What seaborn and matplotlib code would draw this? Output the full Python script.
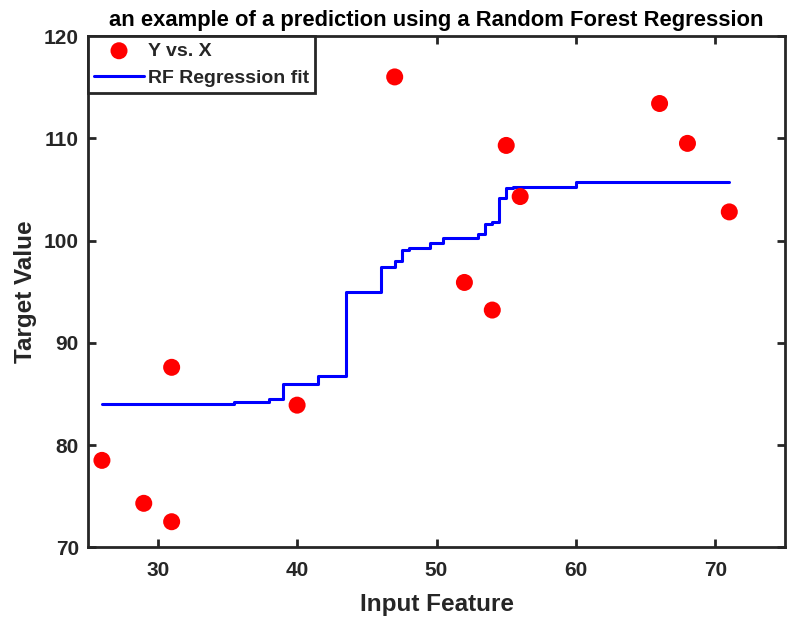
import matplotlib
matplotlib.use("Agg")
import matplotlib.pyplot as plt
import seaborn as sns
import pandas as pd

# observed samples
x_obs = [26, 29, 31, 31, 40, 47, 52, 54, 55, 56, 66, 68, 71]
y_obs = [78.5, 74.3, 72.5, 87.6, 83.9, 116.0, 95.9, 93.2, 109.3, 104.3, 113.4, 109.5, 102.8]

# random forest prediction (piecewise constant)
x_fit = [26, 35.5, 38, 39, 41.5, 43.5, 46, 47, 47.5, 48, 49.5, 50.5, 53, 53.5,
         54, 54.5, 55, 55.5, 60, 71]
y_fit = [84.0, 84.2, 84.5, 86.0, 86.8, 95.0, 97.4, 98.0, 99.1, 99.3, 99.8, 100.2,
         100.6, 101.6, 101.8, 104.2, 105.1, 105.25, 105.7, 105.7]

x_ticks = [30, 40, 50, 60, 70]
y_ticks = [70, 80, 90, 100, 110, 120]

sns.set_theme(style="white")
plt.rcParams["font.family"] = ["Liberation Sans", "DejaVu Sans"]
plt.rcParams["font.weight"] = "bold"

obs = pd.DataFrame({"x": x_obs, "y": y_obs})
fit = pd.DataFrame({"x": x_fit, "y": y_fit})

fig = plt.figure(figsize=(8.11, 6.21), dpi=100)
ax = fig.add_axes([0.1085, 0.1187, 0.8595, 0.8233])

sns.scatterplot(data=obs, x="x", y="y", ax=ax, color="#ff0000", s=150,
                edgecolor="none", label="Y vs. X", zorder=3)
sns.lineplot(data=fit, x="x", y="y", ax=ax, color="#0000ff", linewidth=2.2,
             drawstyle="steps-post", label="RF Regression fit", zorder=2)

ax.set_xlim(25, 75)
ax.set_ylim(70, 120)
ax.set_xticks(x_ticks)
ax.set_yticks(y_ticks)

spine_color = "#262626"
for s in ax.spines.values():
    s.set_visible(True)
    s.set_color(spine_color)
    s.set_linewidth(2.0)

ax.tick_params(direction="in", length=6, width=2.0, color=spine_color,
               top=True, right=True, bottom=True, left=True,
               labelsize=15, labelcolor=spine_color)
ax.tick_params(axis="x", pad=10)
ax.tick_params(axis="y", pad=6.5)
for lab in ax.get_xticklabels() + ax.get_yticklabels():
    lab.set_fontweight("bold")

ax.set_xlabel("Input Feature", fontsize=17.5, fontweight="bold", color=spine_color, labelpad=9)
ax.set_ylabel("Target Value", fontsize=17.5, fontweight="bold", color=spine_color, labelpad=5)
ax.set_title("an example of a prediction using a Random Forest Regression",
             fontsize=15.8, fontweight="bold", color="black", pad=7)

leg = ax.legend(loc="upper left", bbox_to_anchor=(0.0, 1.0),
                frameon=True, fancybox=False, borderaxespad=0.0,
                handlelength=2.55, handletextpad=0.2, borderpad=0.32,
                labelspacing=0.5, prop={"weight": "bold", "size": 14})
leg.get_frame().set_edgecolor(spine_color)
leg.get_frame().set_linewidth(2.0)
leg.get_frame().set_alpha(1)

fig.savefig("out.png", dpi=100)
